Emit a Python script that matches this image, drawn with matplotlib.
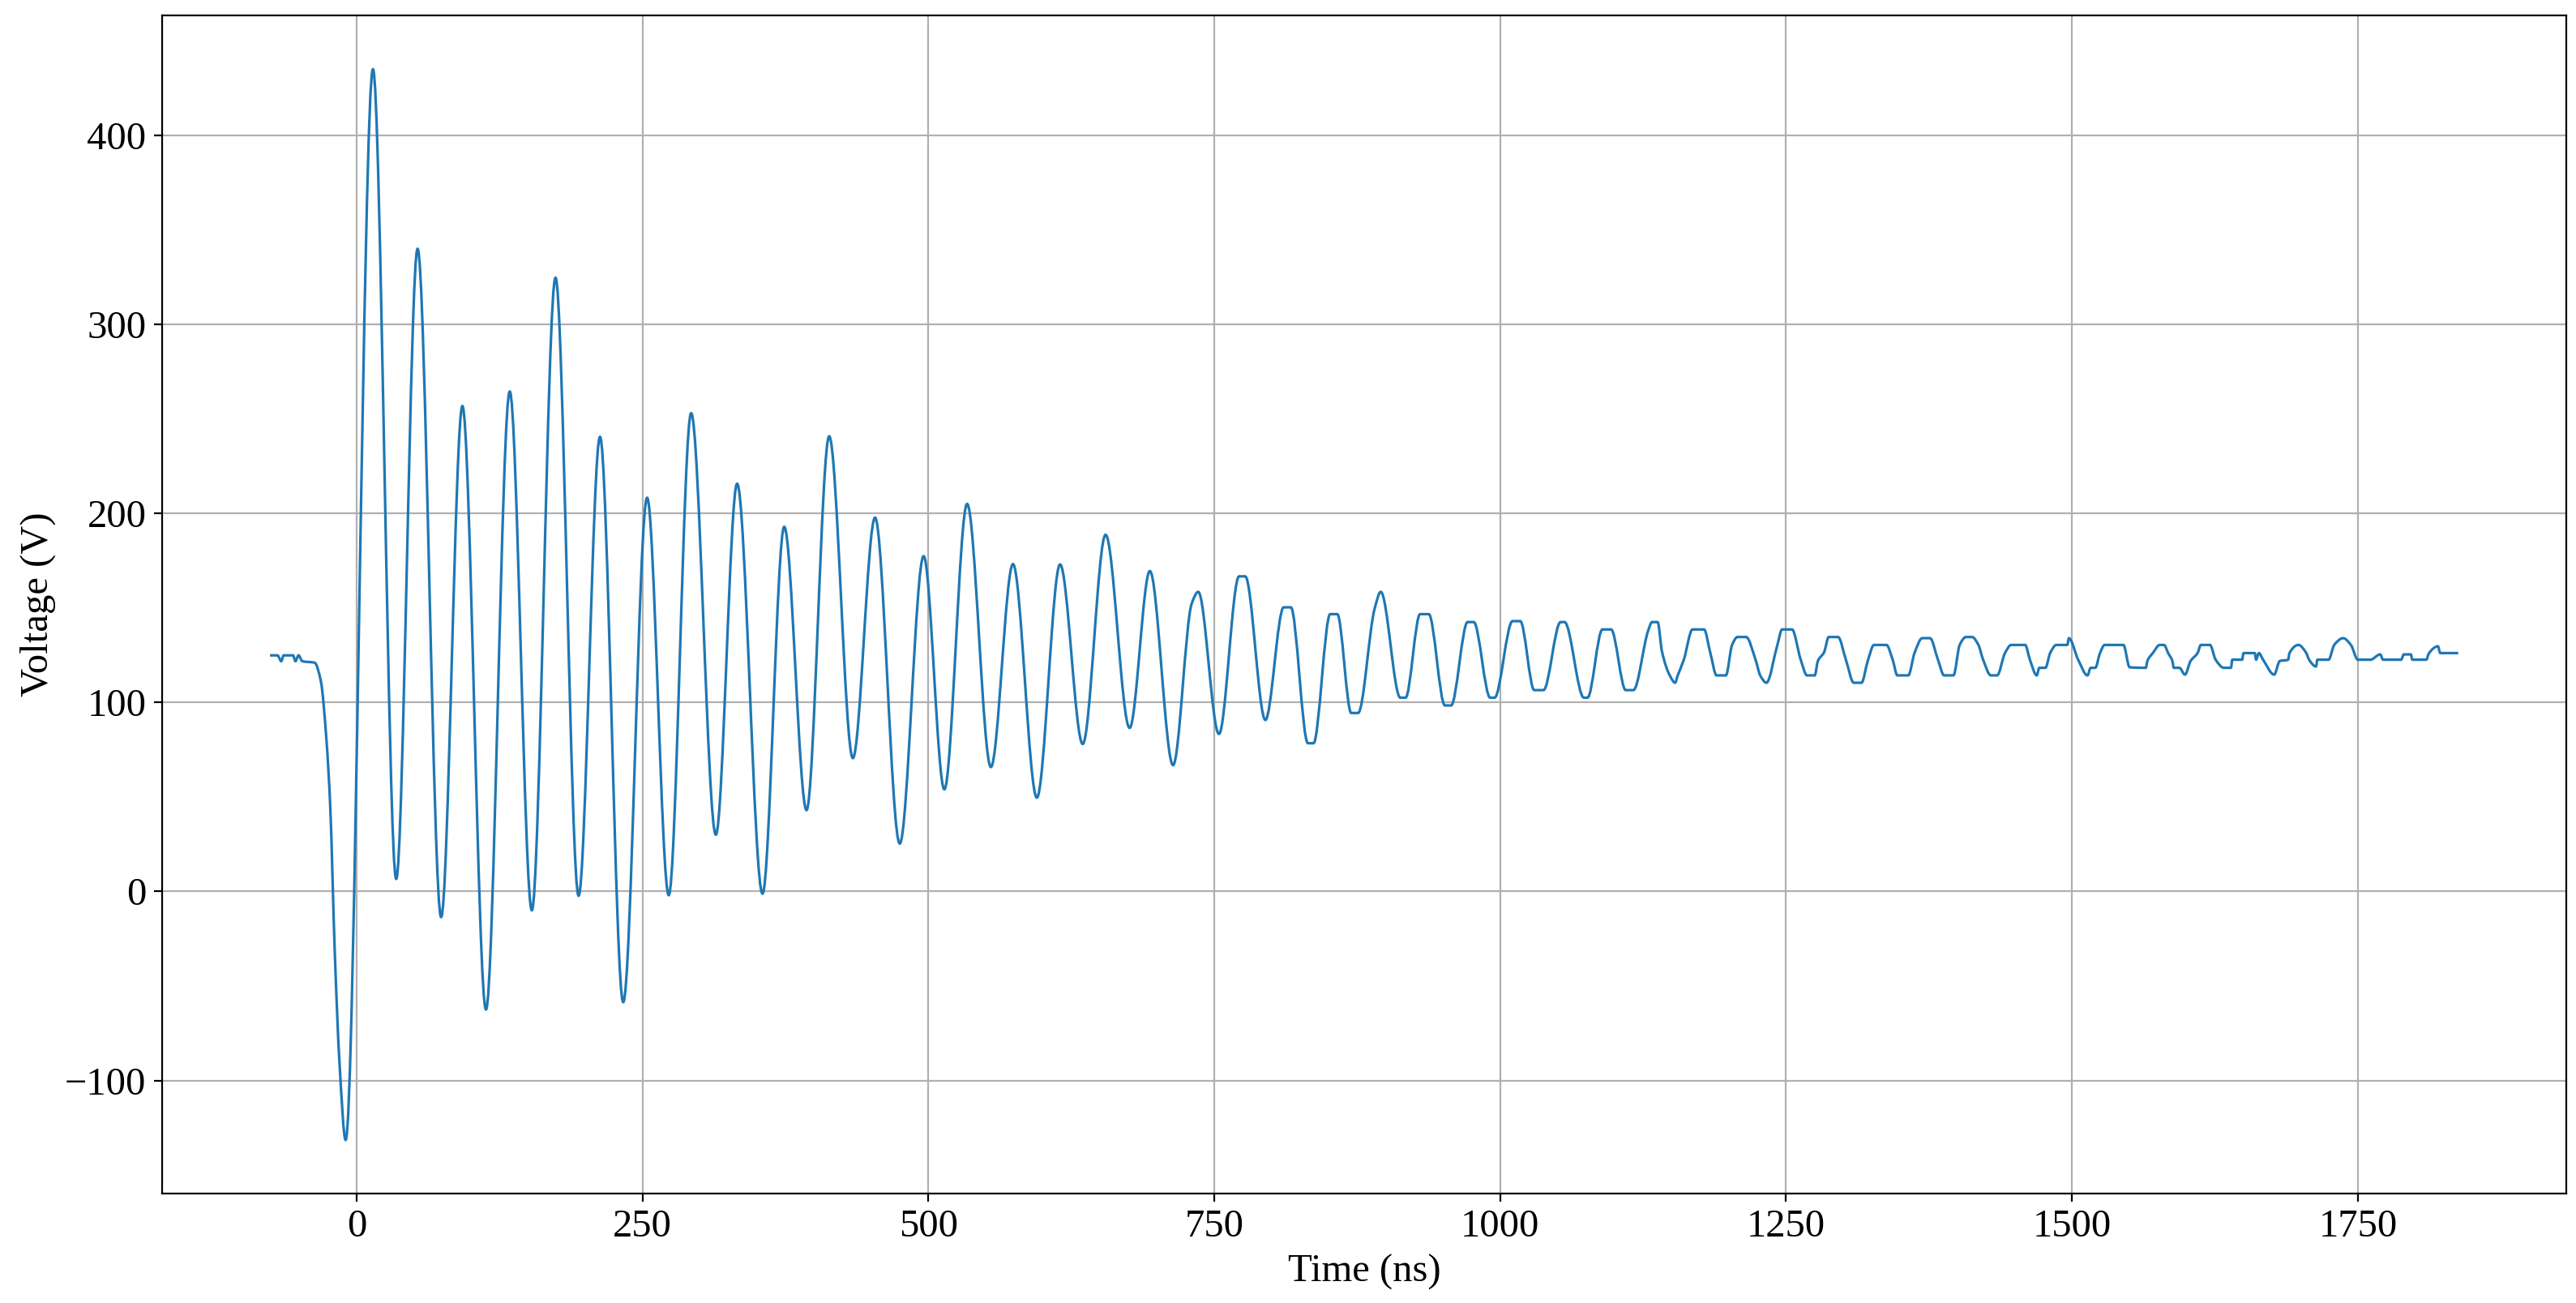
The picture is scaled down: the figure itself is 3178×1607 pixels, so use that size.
import numpy as np
import matplotlib
matplotlib.use("Agg")
import matplotlib.pyplot as plt
from matplotlib.path import Path
from matplotlib.patches import PathPatch

plt.rcParams['font.family'] = ['Liberation Serif', 'DejaVu Serif']
plt.rcParams['font.size'] = 17.5

# Readings of the waveform (extrema, plateaus and steps) off the picture
time_ns = [
    -74.5, -69.1, -65.8, -63.7, -55.5, -53.4, -50.7, -47.4, -36.6, -31.2, -26.3, -23.0, -19.0, -14.9, -9.5,
    14.4, 34.7, 53.4, 74.0, 92.6, 113.2, 134.0, 153.3, 174.0, 194.2, 212.9, 233.2, 254.1, 273.0, 292.6, 314.2,
    332.8, 355.0, 374.0, 393.5, 413.3, 434.0, 453.4, 475.0, 495.9, 514.0, 533.9, 554.7, 574.0, 594.9, 615.2,
    635.0, 655.0, 676.0, 693.7, 714.0, 730.3, 736.0,
    754.1, 771.7, 777.1, 794.7, 810.7, 817.0, 831.9, 836.8, 851.4, 857.6, 869.8, 875.8, 890.2, 895.6,
    912.7, 917.3, 930.0, 937.6, 951.7, 957.1, 971.5, 976.9, 991.3, 995.1, 1010.8, 1017.6, 1029.8, 1037.9,
    1052.8, 1056.3, 1073.2, 1076.4, 1089.4, 1097.0, 1109.8, 1116.5, 1129.5, 1132.8, 1137.7,
    1141.5, 1148.3, 1153.0, 1155.1, 1160.6, 1168.2, 1178.3, 1183.8, 1189.2, 1197.4, 1202.8, 1207.5, 1215.1,
    1223.3, 1227.4, 1232.8, 1242.4, 1246.5, 1255.2, 1262.8, 1268.3, 1275.1, 1277.8, 1283.3, 1287.3, 1295.5,
    1302.3, 1309.2, 1316.0, 1321.4, 1326.9, 1337.8, 1343.2, 1347.3, 1356.9, 1362.3, 1369.1, 1375.9,
    1382.8, 1388.2, 1396.4, 1401.8, 1407.3, 1412.7, 1418.2, 1422.3, 1429.1, 1434.6, 1441.4, 1446.8, 1459.1,
    1463.2, 1469.2, 1471.4, 1476.8, 1480.9, 1486.3, 1495.9, 1497.3, 1505.4, 1513.6, 1516.3, 1520.4, 1524.5,
    1528.6, 1545.0, 1550.4, 1564.6, 1565.9, 1570.7, 1576.8, 1580.5, 1584.1, 1587.8, 1589.0, 1593.9, 1598.8,
    1603.7, 1609.8, 1612.7, 1620.7, 1625.6, 1632.9, 1639.0, 1640.2, 1648.8, 1650.0, 1659.8, 1661.0, 1663.4,
    1667.1, 1676.8, 1681.7, 1689.0, 1690.2, 1698.0, 1704.9, 1707.3, 1713.4, 1714.6, 1724.4, 1729.3, 1737.1,
    1743.9, 1750.0, 1761.0, 1769.5, 1772.0, 1787.8, 1790.2, 1796.3, 1797.6, 1809.8, 1812.2, 1820.0, 1822.0,
    1836.6,
]
voltage_v = [
    124.9, 124.9, 121.8, 124.9, 124.9, 121.8, 124.9, 121.8, 121.0, 111.3, 80.3, 45.4, -32.2, -90.4, -131.5,
    435.0, 6.6, 340.0, -13.6, 256.8, -62.5, 264.5, -10.0, 324.7, -2.3, 240.5, -58.6, 208.3, -2.0, 253.0, 30.0,
    215.7, -1.2, 192.9, 43.0, 240.8, 70.5, 197.8, 25.3, 177.4, 54.0, 205.0, 65.8, 173.2, 49.6, 173.0,
    78.0, 188.7, 86.5, 169.5, 66.8, 152.3, 158.5,
    83.3, 166.7, 166.7, 90.7, 150.3, 150.3, 78.4, 78.4, 146.7, 146.7, 94.4, 94.4, 149.5, 158.5,
    102.5, 102.5, 146.7, 146.7, 98.4, 98.4, 142.5, 142.5, 102.5, 102.5, 143.0, 143.0, 106.5, 106.5,
    142.5, 142.5, 102.5, 102.5, 138.6, 138.6, 106.5, 106.5, 138.1, 142.5, 142.5,
    126.9, 114.3, 110.4, 114.0, 122.6, 138.6, 138.6, 126.1, 114.3, 114.3, 130.4, 134.6, 134.6,
    122.6, 114.3, 110.4, 130.4, 138.6, 138.6, 122.6, 114.3, 114.3, 121.9, 126.6, 134.6, 134.6,
    122.6, 110.4, 110.4, 121.9, 130.4, 130.4, 122.6, 114.3, 114.3, 126.1, 134.0, 134.0,
    122.6, 114.3, 114.3, 130.4, 134.6, 134.6, 130.4, 122.6, 114.3, 114.3, 126.1, 130.4, 130.4,
    122.6, 114.3, 118.3, 118.3, 126.1, 130.4, 130.4, 134.0, 122.6, 114.3, 118.3, 118.3, 126.1,
    130.4, 130.4, 118.6, 118.3, 121.9, 126.1, 130.4, 130.4, 126.1, 121.9, 118.3, 118.3, 114.7,
    121.9, 126.1, 130.4, 130.4, 122.6, 118.3, 118.3, 122.6, 122.6, 126.1, 126.1, 122.6, 126.1,
    122.6, 114.7, 121.9, 122.6, 126.1, 130.4, 126.1, 122.6, 119.0, 122.6, 122.6, 130.4, 134.0,
    130.4, 122.6, 122.6, 125.4, 122.6, 122.6, 125.4, 125.4, 122.6, 122.6, 126.1, 129.7, 126.1,
    126.1,
]

t = np.asarray(time_ns, dtype=float)
v = np.asarray(voltage_v, dtype=float)

# Smooth rendering of the trace: monotone cubic (PCHIP) tangents -> Bezier segments
h = np.diff(t)
d = np.diff(v) / h
m = np.zeros_like(v)
for k in range(1, len(v) - 1):
    if d[k - 1] * d[k] > 0:
        w1 = 2 * h[k] + h[k - 1]
        w2 = h[k] + 2 * h[k - 1]
        m[k] = (w1 + w2) / (w1 / d[k - 1] + w2 / d[k])
verts = [(t[0], v[0])]
codes = [Path.MOVETO]
for k in range(len(t) - 1):
    verts += [(t[k] + h[k] / 3, v[k] + m[k] * h[k] / 3),
              (t[k + 1] - h[k] / 3, v[k + 1] - m[k + 1] * h[k] / 3),
              (t[k + 1], v[k + 1])]
    codes += [Path.CURVE4] * 3

fig = plt.figure(figsize=(15.89, 8.035), dpi=200)
ax = fig.add_subplot(111)
fig.subplots_adjust(left=0.0629, right=0.9962, bottom=0.084, top=0.988)

ax.add_patch(PathPatch(Path(verts, codes), facecolor='none', edgecolor='#1f77b4',
                       linewidth=1.15, capstyle='projecting', joinstyle='round'))

xr = t.max() - t.min()
yr = v.max() - v.min()
ax.set_xlim(t.min() - 0.05 * xr, t.max() + 0.05 * xr)
ax.set_ylim(v.min() - 0.05 * yr, v.max() + 0.05 * yr)
ax.set_xticks([0, 250, 500, 750, 1000, 1250, 1500, 1750])
ax.set_yticks([-100, 0, 100, 200, 300, 400])
ax.grid(True)
ax.set_axisbelow(True)
ax.set_xlabel('Time (ns)')
ax.set_ylabel('Voltage (V)')

fig.savefig('out.png', dpi=200)
